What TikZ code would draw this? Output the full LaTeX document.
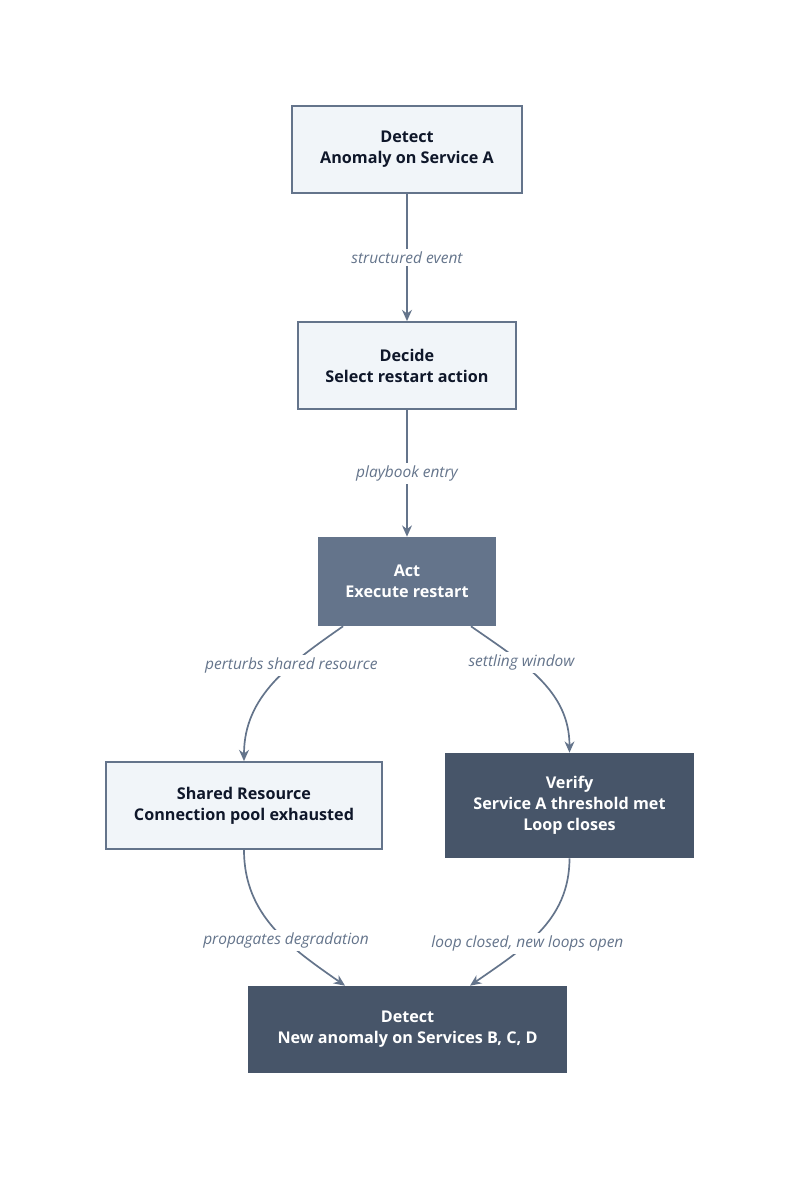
\documentclass[tikz,border=0pt]{standalone}
\usepackage{fontspec}
\setmainfont{Open Sans}
\usetikzlibrary{arrows.meta}
\definecolor{edgegray}{HTML}{64748B}
\definecolor{lightfill}{HTML}{F1F5F9}
\definecolor{darkfill}{HTML}{475569}
\definecolor{inkdark}{HTML}{0F172A}
\begin{document}
\begin{tikzpicture}[x=0.025cm,y=0.025cm]
        \tikzset{
        light/.style={rectangle, fill=lightfill, draw=edgegray, line width=1.2pt, text=inkdark, font=\bfseries\fontsize{11.5}{15}\selectfont, align=center, inner sep=0pt},
        mid/.style={rectangle, fill=edgegray, text=white, font=\bfseries\fontsize{11.5}{15}\selectfont, align=center, inner sep=0pt},
        dark/.style={rectangle, fill=darkfill, text=white, font=\bfseries\fontsize{11.5}{15}\selectfont, align=center, inner sep=0pt},
        flow/.style={-{Stealth[length=8pt,width=7pt]}, draw=edgegray, line width=1.2pt},
        lbl/.style={fill=white, text=edgegray, font=\itshape\fontsize{11}{14}\selectfont, inner sep=2pt}
        }
        \useasboundingbox[fill=white] (0,0) rectangle (800,1180);
        \node[light, minimum width=5.75cm, minimum height=2.175cm] (det1) at (407,1030.5) {Detect\\Anomaly on Service A};
        \node[light, minimum width=5.45cm, minimum height=2.175cm] (dec) at (407,814.5) {Decide\\Select restart action};
        \node[mid, minimum width=4.45cm, minimum height=2.225cm] (act) at (407,598.5) {Act\\Execute restart};
        \node[light, minimum width=6.9cm, minimum height=2.175cm] (res) at (244,374.5) {Shared Resource\\Connection pool exhausted};
        \node[dark, minimum width=6.225cm, minimum height=2.625cm] (ver) at (569.5,374.5) {Verify\\Service A threshold met\\Loop closes};
        \node[dark, minimum width=7.975cm, minimum height=2.175cm] (det2) at (407.5,150.5) {Detect\\New anomaly on Services B, C, D};

        \draw[flow] (det1) -- node[lbl] {structured event} (dec);
        \draw[flow] (dec) -- node[lbl] {playbook entry} (act);
        \draw[flow] (act) to[out=-145, in=90] node[lbl, pos=0.35] {perturbs shared resource} (res);
        \draw[flow] (act) to[out=-35, in=90] node[lbl, pos=0.35] {settling window} (ver);
        \draw[flow] (res) to[out=-90, in=145] node[lbl, pos=0.6] {propagates degradation} (det2);
        \draw[flow] (ver) to[out=-90, in=35] node[lbl, pos=0.6] {loop closed, new loops open} (det2);
\end{tikzpicture}
\end{document}
